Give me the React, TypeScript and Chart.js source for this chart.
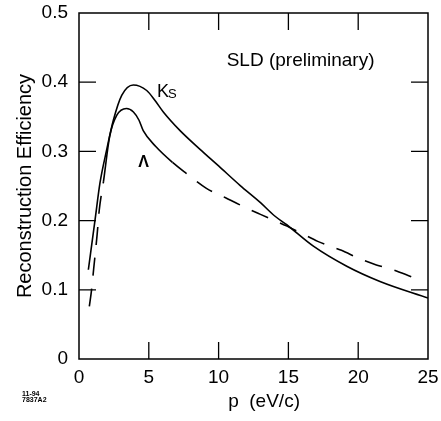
import React, { useEffect, useRef } from "react";
import { Chart, registerables } from "chart.js";

Chart.register(...registerables);

// K_S reconstruction efficiency (solid)
const ksMomentum = [0.67, 1.15, 1.5, 1.98, 2.46, 3.06, 3.89, 4.85, 5.5, 6.04, 7.24, 8.67, 10.0, 11.53, 13.0, 14.0, 14.88, 16.79, 19.18, 21.56, 25.0];
const ksEfficiency = [0.129, 0.201, 0.254, 0.302, 0.345, 0.381, 0.396, 0.388, 0.372, 0.357, 0.33, 0.303, 0.279, 0.251, 0.226, 0.207, 0.194, 0.163, 0.134, 0.112, 0.088];

// Lambda reconstruction efficiency (dashed)
const lamMomentum = [0.74, 0.9, 1.05, 1.3, 1.45, 1.75, 2.2, 2.7, 3.4, 3.9, 4.3, 4.6, 5.5, 6.7, 7.7, 9.1, 10.5, 11.7, 13.0, 14.9, 16.0, 17.1, 18.8, 20.1, 21.3, 22.5, 23.8];
const lamEfficiency = [0.076, 0.1, 0.13, 0.18, 0.215, 0.256, 0.322, 0.352, 0.362, 0.357, 0.345, 0.33, 0.307, 0.284, 0.268, 0.247, 0.233, 0.221, 0.209, 0.192, 0.181, 0.17, 0.157, 0.145, 0.136, 0.129, 0.119];

// Tick values
const xTicks = [5, 10, 15, 20];
const yTicks = [0.1, 0.2, 0.3, 0.4];

const FONT = "'Liberation Sans', Arial, Helvetica, sans-serif";

const decorPlugin = {
  id: "decor",
  afterDatasetsDraw(chart: any) {
    const { ctx, chartArea } = chart;
    const xs = chart.scales.x;
    const ys = chart.scales.y;
    const { left, right, top, bottom } = chartArea;
    ctx.save();
    ctx.strokeStyle = "#000";
    ctx.lineWidth = 1.5;
    ctx.strokeRect(left, top, right - left, bottom - top);
    const tl = 17;
    ctx.lineWidth = 1.3;
    ctx.beginPath();
    for (const t of xTicks) {
      const px = xs.getPixelForValue(t);
      ctx.moveTo(px, bottom);
      ctx.lineTo(px, bottom - tl);
      ctx.moveTo(px, top);
      ctx.lineTo(px, top + tl);
    }
    for (const t of yTicks) {
      const py = ys.getPixelForValue(t);
      ctx.moveTo(left, py);
      ctx.lineTo(left + tl, py);
      ctx.moveTo(right, py);
      ctx.lineTo(right - tl, py);
    }
    ctx.stroke();

    ctx.fillStyle = "#000";
    ctx.textBaseline = "alphabetic";
    // SLD (preliminary)
    ctx.font = `19px ${FONT}`;
    ctx.textAlign = "left";
    ctx.fillText("SLD (preliminary)", xs.getPixelForValue(10.58), ys.getPixelForValue(0.424));
    // K_S label
    const kx = xs.getPixelForValue(5.59);
    const ky = ys.getPixelForValue(0.379);
    ctx.font = `18px ${FONT}`;
    ctx.fillText("K", kx, ky);
    const kw = ctx.measureText("K").width;
    ctx.font = `13px ${FONT}`;
    ctx.fillText("S", kx + kw - 1, ky + 1.5);
    // Lambda label
    ctx.font = `bold 16px ${FONT}`;
    ctx.textAlign = "center";
    ctx.fillText("Λ", xs.getPixelForValue(4.62), ys.getPixelForValue(0.277));
    // footnote
    ctx.font = `bold 7px ${FONT}`;
    ctx.textAlign = "left";
    ctx.fillText("11-94", 22, 396);
    ctx.fillText("7837A2", 22, 402);
    ctx.restore();
  },
};

export default function App() {
  const canvasRef = useRef<HTMLCanvasElement | null>(null);

  useEffect(() => {
    const canvas = canvasRef.current;
    if (!canvas) return;
    const old = Chart.getChart(canvas);
    if (old) old.destroy();
    const chart = new Chart(canvas, {
      type: "line",
      data: {
        datasets: [
          {
            label: "KS",
            data: ksMomentum.map((p, i) => ({ x: p, y: ksEfficiency[i] })),
            borderColor: "#000",
            borderWidth: 1.6,
            pointRadius: 0,
            fill: false,
            cubicInterpolationMode: "monotone",
          },
          {
            label: "Lambda",
            data: lamMomentum.map((p, i) => ({ x: p, y: lamEfficiency[i] })),
            borderColor: "#000",
            borderWidth: 1.6,
            pointRadius: 0,
            fill: false,
            cubicInterpolationMode: "monotone",
            segment: {
              borderDash: (c: any) => {
                const x0 = c.p0.parsed.x;
                return x0 >= 1.7 && x0 < 6.6 ? [] : [18, 13];
              },
            },
          },
        ],
      },
      options: {
        responsive: false,
        animation: false,
        devicePixelRatio: 1,
        layout: { padding: { top: 13, right: 13, left: 0, bottom: 0 } },
        plugins: {
          legend: { display: false },
          tooltip: { enabled: false },
        },
        scales: {
          x: {
            type: "linear",
            min: 0,
            max: 25,
            grid: {
              display: true,
              drawOnChartArea: false,
              drawTicks: true,
              tickLength: 7,
              tickColor: "rgba(0,0,0,0)",
            },
            border: { display: false },
            ticks: {
              stepSize: 5,
              color: "#000",
              font: { size: 19, family: FONT },
              padding: 0,
              maxRotation: 0,
              autoSkip: false,
            },
            title: {
              display: true,
              text: "    p  (eV/c)",
              color: "#000",
              font: { size: 19, family: FONT },
              padding: { top: 0, bottom: 8 },
            },
            afterFit: (s: any) => {
              s.height = 62;
            },
          },
          y: {
            type: "linear",
            min: 0,
            max: 0.5,
            grid: {
              display: true,
              drawOnChartArea: false,
              drawTicks: true,
              tickLength: 11,
              tickColor: "rgba(0,0,0,0)",
            },
            border: { display: false },
            ticks: {
              stepSize: 0.1,
              color: "#000",
              font: { size: 19, family: FONT },
              padding: 0,
            },
            title: {
              display: true,
              text: "Reconstruction Efficiency",
              color: "#000",
              font: { size: 20, family: FONT },
              padding: { top: 13, bottom: 0 },
            },
            afterFit: (s: any) => {
              s.width = 79;
            },
          },
        },
      },
      plugins: [decorPlugin],
    });
    return () => chart.destroy();
  }, []);

  return (
    <div style={{ position: "fixed", left: 0, top: 0, width: 441, height: 421, background: "#fff", overflow: "hidden" }}>
      <canvas ref={canvasRef} width={441} height={421} style={{ display: "block", width: 441, height: 421 }} />
    </div>
  );
}
